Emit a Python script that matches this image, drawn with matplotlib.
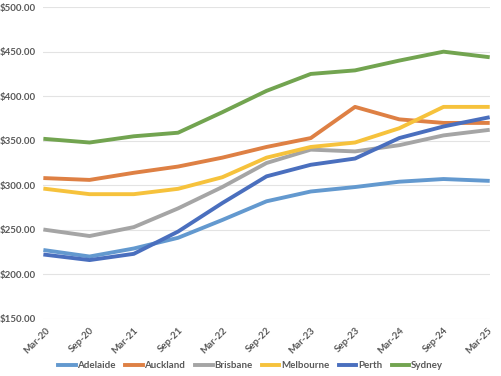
import matplotlib.pyplot as plt
from matplotlib.ticker import FuncFormatter

periods = ['Mar-20', 'Sep-20', 'Mar-21', 'Sep-21', 'Mar-22', 'Sep-22',
           'Mar-23', 'Sep-23', 'Mar-24', 'Sep-24', 'Mar-25']

adelaide = [227, 220, 229, 241, 261, 282, 293, 298, 304, 307, 305]
auckland = [308, 306, 314, 321, 331, 343, 353, 388, 374, 370, 370]
brisbane = [250, 243, 253, 274, 298, 325, 340, 338, 345, 356, 362]
melbourne = [296, 290, 290, 296, 309, 331, 343, 348, 364, 388, 388]
perth = [222, 216, 223, 248, 280, 310, 323, 330, 353, 366, 376]
sydney = [352, 348, 355, 359, 382, 406, 425, 429, 440, 450, 444]

series = [
    ('Adelaide', adelaide, '#6399CF'),
    ('Auckland', auckland, '#DE8044'),
    ('Brisbane', brisbane, '#A5A5A5'),
    ('Melbourne', melbourne, '#F6C23C'),
    ('Perth', perth, '#4A6FBE'),
    ('Sydney', sydney, '#72A450'),
]

plt.rcParams['font.family'] = ['Lato', 'DejaVu Sans']

fig = plt.figure(figsize=(5.01, 3.76), dpi=100)
ax = fig.add_axes([0.086, 0.152, 0.892, 0.829])

x = range(len(periods))
for name, vals, color in series:
    ax.plot(x, vals, color=color, lw=2.8, label=name)

ax.set_ylim(150, 500)
ax.set_xlim(-0.05, len(periods) - 1 + 0.05)
ax.set_yticks(range(150, 501, 50))
ax.yaxis.set_major_formatter(FuncFormatter(lambda v, p: f'${v:,.2f}'))
ax.set_xticks(list(x))
ax.set_xticklabels(periods, rotation=45, ha='right', rotation_mode='anchor')

for lab in ax.get_xticklabels() + ax.get_yticklabels():
    lab.set_fontsize(7)
    lab.set_fontweight('bold')
    lab.set_color('#595959')

ax.grid(axis='y', color='#E3E3E3', lw=0.8)
ax.set_axisbelow(True)
for s in ax.spines.values():
    s.set_visible(False)
ax.tick_params(length=0, pad=5)

handles, labels = ax.get_legend_handles_labels()
leg = fig.legend(handles, labels, loc='center', bbox_to_anchor=(0.5, 0.027),
                 ncol=6, frameon=False, handlelength=1.8, handletextpad=0.15,
                 columnspacing=1.0, prop={'size': 7, 'weight': 'bold'})
for t in leg.get_texts():
    t.set_color('#595959')

fig.savefig('out.png', dpi=100)
